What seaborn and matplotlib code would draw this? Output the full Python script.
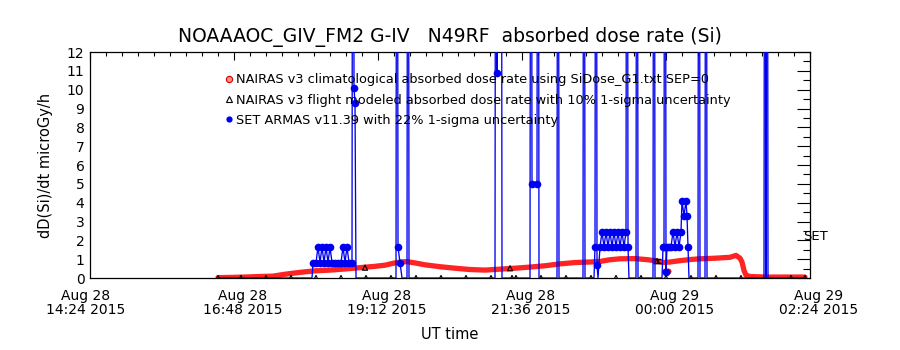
import matplotlib
matplotlib.use("Agg")
import matplotlib.pyplot as plt
import matplotlib.dates as mdates
import matplotlib.transforms as mtrans
from matplotlib.lines import Line2D
from matplotlib.ticker import FixedLocator, MultipleLocator
import pandas as pd
import seaborn as sns

# ---------------- data (UT clock times; hours < 12 are on Aug 29) ----------------
red_times = ["16:32", "16:44", "16:59", "17:14", "17:27", "17:39", "17:54", "18:09", "18:24",
             "18:39", "18:54", "19:09", "19:19", "19:27", "19:34", "19:41", "19:49", "19:59",
             "20:14", "20:29", "20:44", "20:59", "21:14", "21:29", "21:44", "21:59", "22:14",
             "22:29", "22:44", "22:54", "23:04", "23:14", "23:29", "23:42", "23:51", "23:57",
             "00:04", "00:14", "00:24", "00:34", "00:49", "01:04", "01:10", "01:14", "01:16",
             "01:18", "01:20", "01:24", "01:39", "01:59", "02:19"]
red_vals = [0.02, 0.03, 0.05, 0.08, 0.10, 0.20, 0.30, 0.38, 0.42,
            0.48, 0.55, 0.62, 0.68, 0.78, 0.85, 0.87, 0.80, 0.70,
            0.60, 0.52, 0.45, 0.42, 0.47, 0.52, 0.58, 0.65, 0.75,
            0.82, 0.85, 0.88, 0.97, 1.02, 1.03, 0.97, 0.90, 0.82,
            0.85, 0.92, 0.98, 1.02, 1.05, 1.10, 1.20, 1.05, 0.85,
            0.40, 0.15, 0.08, 0.05, 0.05, 0.05]
red_dip_times = ["23:59", "00:02"]
red_dip_vals = [0.37, 0.37]

black_times = ["16:32", "16:55", "17:20", "17:45", "18:10", "18:35", "18:59", "19:00", "19:25",
               "19:50", "20:15", "20:40", "21:05", "21:24", "21:26", "21:30", "21:55", "22:20",
               "22:45", "23:10", "23:35", "23:51", "00:00", "00:25", "00:50", "01:15", "01:40",
               "02:05", "02:19"]
black_vals = [0.0, 0.0, 0.0, 0.0, 0.0, 0.0, 0.55, 0.0, 0.0,
              0.0, 0.0, 0.0, 0.0, 0.52, 0.0, 0.0, 0.0, 0.0,
              0.0, 0.0, 0.0, 0.90, 0.0, 0.0, 0.0, 0.0, 0.0,
              0.0, 0.0]
black_err = [0.0, 0.0, 0.0, 0.0, 0.0, 0.0, 0.0, 0.0, 0.0,
             0.0, 0.0, 0.0, 0.0, 0.0, 0.0, 0.0, 0.0, 0.0,
             0.0, 0.0, 0.0, 0.09, 0.0, 0.0, 0.0, 0.0, 0.0,
             0.0, 0.0]

blue_times = ["16:32", "17:04", "17:34", "18:06", "18:07", "18:10", "18:12", "18:14", "18:16",
              "18:18", "18:20", "18:22", "18:24", "18:26", "18:29", "18:32", "18:35", "18:37",
              "18:39", "18:41", "18:43", "18:46", "18:47", "18:48", "18:49", "18:50", "19:09",
              "19:30", "19:31", "19:32", "19:34", "19:36", "19:41", "19:42", "19:43", "20:14",
              "20:44", "21:09", "21:10", "21:11", "21:15", "21:16", "21:44", "21:45", "21:46",
              "21:51", "21:52", "21:53", "22:11", "22:12", "22:13", "22:37", "22:38", "22:39",
              "22:48", "22:49", "22:50", "22:51", "22:52", "22:54", "22:56", "22:58", "23:00",
              "23:02", "23:04", "23:06", "23:08", "23:10", "23:12", "23:14", "23:16", "23:18",
              "23:20", "23:21", "23:22", "23:23", "23:30", "23:31", "23:32", "23:47", "23:48",
              "23:49", "23:56", "23:57", "23:58", "23:59", "00:00", "00:01", "00:03", "00:05",
              "00:07", "00:09", "00:11", "00:13", "00:15", "00:16", "00:18", "00:20", "00:21",
              "00:22", "00:23", "00:32", "00:33", "00:34", "00:39", "00:40", "00:41", "01:09",
              "01:38", "01:39", "01:40", "01:41", "01:42", "02:04", "02:19"]
blue_vals = [0.0, 0.0, 0.0, 0.0, 0.82, 0.82, 1.65, 0.82, 1.65,
             0.82, 1.65, 0.82, 1.65, 0.82, 0.82, 0.82, 0.82, 1.65,
             0.82, 1.65, 0.82, 0.82, 50.0, 10.1, 9.3, 0.0, 0.0,
             0.0, 50.0, 1.65, 0.82, 0.0, 0.0, 50.0, 0.0, 0.0,
             0.0, 0.0, 50.0, 10.9, 50.0, 0.0, 0.0, 50.0, 5.0,
             5.0, 50.0, 0.0, 0.0, 50.0, 0.0, 0.0, 50.0, 0.0,
             0.0, 1.65, 50.0, 0.7, 0.0, 1.65, 2.45, 1.65, 2.45,
             1.65, 2.45, 1.65, 2.45, 1.65, 2.45, 1.65, 2.45, 1.65,
             2.45, 50.0, 1.65, 0.0, 0.0, 50.0, 0.0, 0.0, 50.0,
             0.0, 0.0, 1.65, 1.65, 50.0, 0.3, 1.65, 1.65, 1.65,
             2.45, 1.65, 2.45, 1.65, 2.45, 4.1, 3.3, 4.1, 3.3,
             1.65, 0.0, 0.0, 50.0, 0.0, 0.0, 50.0, 0.0, 0.0,
             0.0, 50.0, 0.0, 50.0, 0.0, 0.0, 0.0]

legend_labels = ["NAIRAS v3 climatological absorbed dose rate using SiDose_G1.txt SEP=0",
                 "NAIRAS v3 flight modeled absorbed dose rate with 10% 1-sigma uncertainty",
                 "SET ARMAS v11.39 with 22% 1-sigma uncertainty"]
title_text = "NOAAAOC_GIV_FM2 G-IV   N49RF  absorbed dose rate (Si)"
y_ticks = list(range(0, 13))
x_start, x_end = "14:24", "02:24"


def to_ts(hhmm):
    return [pd.Timestamp(f"2015-08-{29 if int(s[:2]) < 12 else 28} {s}") for s in hhmm]


red_df = pd.DataFrame({"t": to_ts(red_times), "v": red_vals})
dip_df = pd.DataFrame({"t": to_ts(red_dip_times), "v": red_dip_vals})
blk_df = pd.DataFrame({"t": to_ts(black_times), "v": black_vals, "e": black_err})
blu_df = pd.DataFrame({"t": to_ts(blue_times), "v": blue_vals})

# ---------------- style ----------------
sns.set_theme(style="white")
plt.rcParams["font.family"] = ["DejaVu Sans"]
plt.rcParams["text.color"] = "black"
plt.rcParams["axes.labelcolor"] = "black"
plt.rcParams["xtick.color"] = "black"
plt.rcParams["ytick.color"] = "black"

fig = plt.figure(figsize=(9, 3.5), dpi=100)
ax = fig.add_axes([0.1, 0.2057, 0.8, 0.6457])

# baseline drawn by the zero-valued blue/black records (dark strip)
# red climatological
sns.lineplot(data=red_df, x="t", y="v", ax=ax, color="#ff2424", linewidth=3.8,
             estimator=None, sort=False, zorder=3)
sns.scatterplot(data=dip_df, x="t", y="v", ax=ax, color="#ff2424", s=14,
                edgecolor="#d00000", linewidth=0.5, zorder=3)

# black flight modeled
err_rows = blk_df[blk_df["e"] > 0]
ax.errorbar(err_rows["t"], err_rows["v"], yerr=err_rows["e"], fmt="none",
            ecolor="black", elinewidth=0.8, capsize=3, zorder=4)
sns.scatterplot(data=blk_df, x="t", y="v", ax=ax, marker="^", s=14,
                facecolor="none", edgecolor="black", linewidth=0.8, zorder=4)

# blue SET ARMAS
mark_idx = [i for i, v in enumerate(blue_vals) if v > 0]
sns.lineplot(data=blu_df, x="t", y="v", ax=ax, color="#0000f0", linewidth=0.95,
             marker="o", markersize=5.5, markeredgewidth=0, markevery=mark_idx,
             estimator=None, sort=False, zorder=5)

# ---------------- axes ----------------
t0 = to_ts([x_start])[0]
t1 = to_ts([x_end])[0]
ax.set_xlim(t0, t1)
ax.set_ylim(y_ticks[0], y_ticks[-1])

majors = [mdates.date2num(t0 + pd.Timedelta(minutes=144 * k)) for k in range(6)]
minors = [mdates.date2num(t0 + pd.Timedelta(minutes=16 * k)) for k in range(46)]
ax.xaxis.set_major_locator(FixedLocator(majors))
ax.xaxis.set_minor_locator(FixedLocator(minors))
ax.xaxis.set_major_formatter(mdates.DateFormatter("%b %d\n%H:%M %Y"))
ax.set_yticks(y_ticks)
ax.yaxis.set_minor_locator(MultipleLocator(0.5))

ax.tick_params(axis="both", which="both", direction="in", top=True, right=True,
               labelsize=10, width=0.8)
ax.tick_params(axis="y", which="major", length=9.5, pad=4)
ax.tick_params(axis="y", which="minor", length=5)
ax.tick_params(axis="x", which="major", length=6, pad=8)
ax.tick_params(axis="x", which="minor", length=3)
for lab in ax.get_xticklabels():
    lab.set_linespacing(0.95)
for i, lab in enumerate(ax.get_xticklabels()):
    dx = -4 if i == 0 else 9
    lab.set_transform(lab.get_transform() + mtrans.ScaledTranslation(dx / 100, 0, fig.dpi_scale_trans))

for sp in ax.spines.values():
    sp.set_color("black")
    sp.set_linewidth(0.9)

ax.set_xlabel("UT time", fontsize=10.5)
ax.xaxis.set_label_coords(0.5, -0.215)
ax.set_ylabel("dD(Si)/dt microGy/h", fontsize=10.5)
ax.yaxis.set_label_coords(-0.052, 0.5)
ax.set_title(title_text, fontsize=13.5, pad=7)

ax.text(to_ts(["02:17"])[0], 2.2, "SET", fontsize=9.5, ha="left", va="center", clip_on=False)

handles = [
    Line2D([], [], linestyle="none", marker="o", markersize=4.5, markerfacecolor="#ff9090",
           markeredgecolor="#d00000", markeredgewidth=0.8),
    Line2D([], [], linestyle="none", marker="^", markersize=4.5, markerfacecolor="none",
           markeredgecolor="black", markeredgewidth=0.8),
    Line2D([], [], linestyle="none", marker="o", markersize=4.5, markerfacecolor="#0000f0",
           markeredgewidth=0),
]
ax.legend(handles, legend_labels, loc="upper left", bbox_to_anchor=(0.188, 0.905),
          frameon=False, fontsize=9.3, handlelength=0.6, handletextpad=0.25,
          labelspacing=0.55, borderpad=0, borderaxespad=0)

fig.savefig("out.png", dpi=100)
